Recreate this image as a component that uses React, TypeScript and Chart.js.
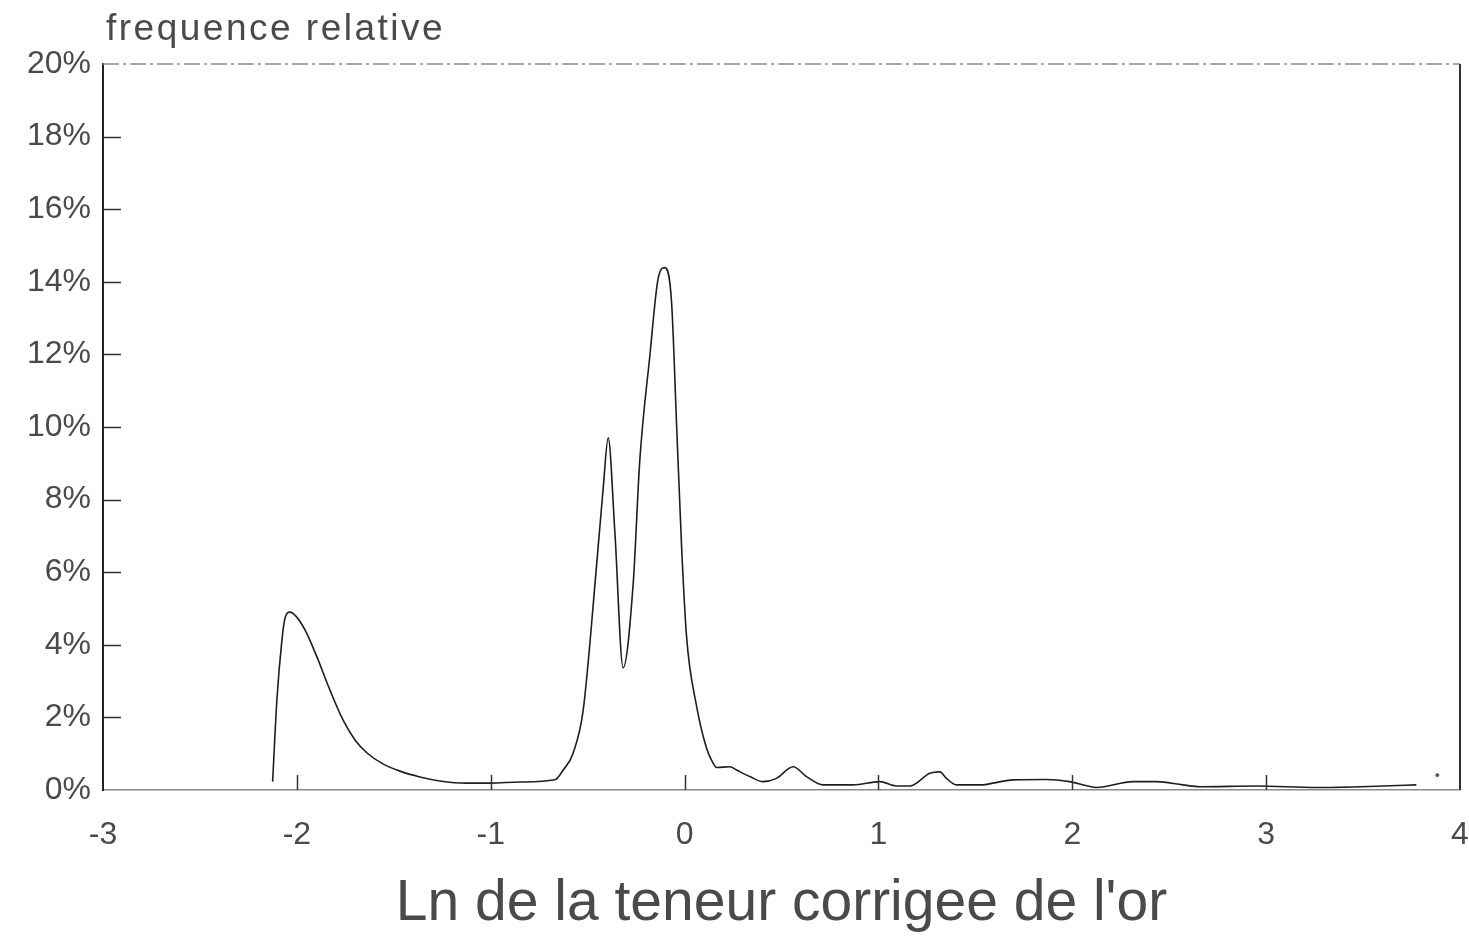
import React, { useEffect, useRef } from "react";
import { Chart, registerables } from "chart.js";

Chart.register(...registerables);

// Ln of corrected gold grade (x) and relative frequency in % (y)
const xValues = [
  -2.125, -2.103, -2.077, -2.061, -2.036, -2.005, -1.958, -1.896, -1.829, -1.762,
  -1.7, -1.638, -1.556, -1.468, -1.365, -1.262, -1.123, -1.004, -0.849, -0.669,
  -0.626, -0.576, -0.523, -0.454, -0.42, -0.394, -0.36, -0.317, -0.265, -0.231,
  -0.179, -0.136, -0.102, -0.067, -0.041, -0.015, 0.01, 0.062, 0.113, 0.147,
  0.165, 0.234, 0.268, 0.337, 0.405, 0.474, 0.56, 0.629, 0.715, 0.869,
  1.007, 1.093, 1.162, 1.265, 1.317, 1.351, 1.403, 1.523, 1.695, 1.867,
  1.987, 2.125, 2.314, 2.434, 2.571, 2.658, 2.95, 3.259, 3.603, 3.775,
];
const yValues = [
  0.23, 2.48, 4.13, 4.74, 4.9, 4.79, 4.41, 3.66, 2.75, 1.93,
  1.38, 1.02, 0.72, 0.52, 0.36, 0.25, 0.19, 0.19, 0.22, 0.28,
  0.55, 1.0, 2.2, 6.18, 8.3, 9.7, 7.14, 3.37, 5.69, 9.08,
  11.97, 14.1, 14.39, 13.43, 10.04, 6.66, 4.24, 2.31, 1.16, 0.74,
  0.62, 0.64, 0.55, 0.37, 0.23, 0.32, 0.64, 0.37, 0.14, 0.14,
  0.23, 0.11, 0.11, 0.46, 0.5, 0.32, 0.14, 0.14, 0.28, 0.29,
  0.23, 0.07, 0.23, 0.23, 0.14, 0.09, 0.11, 0.07, 0.11, 0.14,
];
const isolatedX = [3.883];
const isolatedY = [0.41];

const xMin = -3;
const xMax = 4;
const yMin = 0;
const yMax = 20;
const yStep = 2;

const yAxisTitle = "frequence relative";
const xAxisTitle = "Ln de la teneur corrigee de l'or";

const TEXT_COLOR = "#4a4a4a";
const FONT_FAMILY = '"Liberation Sans", Arial, sans-serif';

const framePlugin = {
  id: "frameAndTicks",
  afterDraw(chart: any) {
    const { ctx, chartArea, scales } = chart;
    const { left, right, top, bottom } = chartArea;
    const x = scales.x;
    const y = scales.y;
    ctx.save();
    // inward ticks
    ctx.strokeStyle = "#333";
    ctx.lineWidth = 1.5;
    y.ticks.forEach((t: any) => {
      if (t.value <= yMin || t.value >= yMax) return;
      const py = Math.round(y.getPixelForValue(t.value)) + 0.5;
      ctx.beginPath();
      ctx.moveTo(left, py);
      ctx.lineTo(left + 18, py);
      ctx.stroke();
    });
    x.ticks.forEach((t: any) => {
      if (t.value <= xMin || t.value >= xMax) return;
      const px = Math.round(x.getPixelForValue(t.value)) + 0.5;
      ctx.beginPath();
      ctx.moveTo(px, bottom);
      ctx.lineTo(px, bottom - 15);
      ctx.stroke();
    });
    // top border (dashed grey) and right border (solid)
    ctx.strokeStyle = "#8a8a8a";
    ctx.lineWidth = 1.5;
    ctx.setLineDash([16, 4, 3, 4]);
    ctx.beginPath();
    ctx.moveTo(left, top);
    ctx.lineTo(right, top);
    ctx.stroke();
    ctx.setLineDash([]);
    ctx.strokeStyle = "#333";
    ctx.lineWidth = 2;
    ctx.beginPath();
    ctx.moveTo(right, top);
    ctx.lineTo(right, bottom);
    ctx.stroke();
    // y axis title, horizontal above the axis
    ctx.fillStyle = TEXT_COLOR;
    ctx.font = `37px ${FONT_FAMILY}`;
    (ctx as any).letterSpacing = "2.5px";
    ctx.textAlign = "left";
    ctx.textBaseline = "alphabetic";
    ctx.fillText(yAxisTitle, left + 3, 40);
    (ctx as any).letterSpacing = "0px";
    ctx.restore();
  },
};

export default function App() {
  const canvasRef = useRef<HTMLCanvasElement | null>(null);

  useEffect(() => {
    if (!canvasRef.current) return;
    const lineData = xValues.map((v, i) => ({ x: v, y: yValues[i] }));
    const dotData = isolatedX.map((v, i) => ({ x: v, y: isolatedY[i] }));
    const chart = new Chart(canvasRef.current, {
      type: "line",
      data: {
        datasets: [
          {
            data: lineData,
            borderColor: "#1e1e1e",
            borderWidth: 1.6,
            pointRadius: 0,
            cubicInterpolationMode: "monotone",
            fill: false,
          },
          {
            type: "scatter",
            data: dotData,
            backgroundColor: "#555",
            borderColor: "#555",
            pointRadius: 1.5,
            showLine: false,
          } as any,
        ],
      },
      plugins: [framePlugin],
      options: {
        animation: false,
        responsive: true,
        maintainAspectRatio: false,
        layout: { padding: { top: 64, right: 9, left: 0, bottom: 0 } },
        plugins: {
          legend: { display: false },
          tooltip: { enabled: false },
          title: { display: false },
        },
        scales: {
          x: {
            type: "linear",
            min: xMin,
            max: xMax,
            afterFit: (scale: any) => {
              scale.height = 151;
              scale.paddingRight = 0;
              scale.paddingLeft = 0;
            },
            ticks: {
              stepSize: 1,
              color: TEXT_COLOR,
              font: { family: FONT_FAMILY, size: 32 },
              padding: 26,
              maxRotation: 0,
            },
            grid: { drawOnChartArea: false, drawTicks: false },
            border: { display: true, color: "#8a8a8a", width: 1.5, dash: [16, 4, 3, 4] },
            title: {
              display: true,
              text: xAxisTitle,
              color: TEXT_COLOR,
              font: { family: FONT_FAMILY, size: 57, lineHeight: 1 },
              padding: { top: 0, bottom: 8 },
            },
          },
          y: {
            type: "linear",
            min: yMin,
            max: yMax,
            afterFit: (scale: any) => {
              scale.width = 103;
            },
            ticks: {
              stepSize: yStep,
              color: TEXT_COLOR,
              font: { family: FONT_FAMILY, size: 32 },
              padding: 12,
              callback: (v: any) => `${v}%`,
            },
            grid: { drawOnChartArea: false, drawTicks: false },
            border: { display: true, color: "#222", width: 2 },
          },
        },
      },
    });
    return () => chart.destroy();
  }, []);

  return (
    <div
      style={{
        position: "fixed",
        left: 0,
        top: 0,
        width: 1469,
        height: 941,
        background: "#fff",
      }}
    >
      <canvas ref={canvasRef} />
    </div>
  );
}
